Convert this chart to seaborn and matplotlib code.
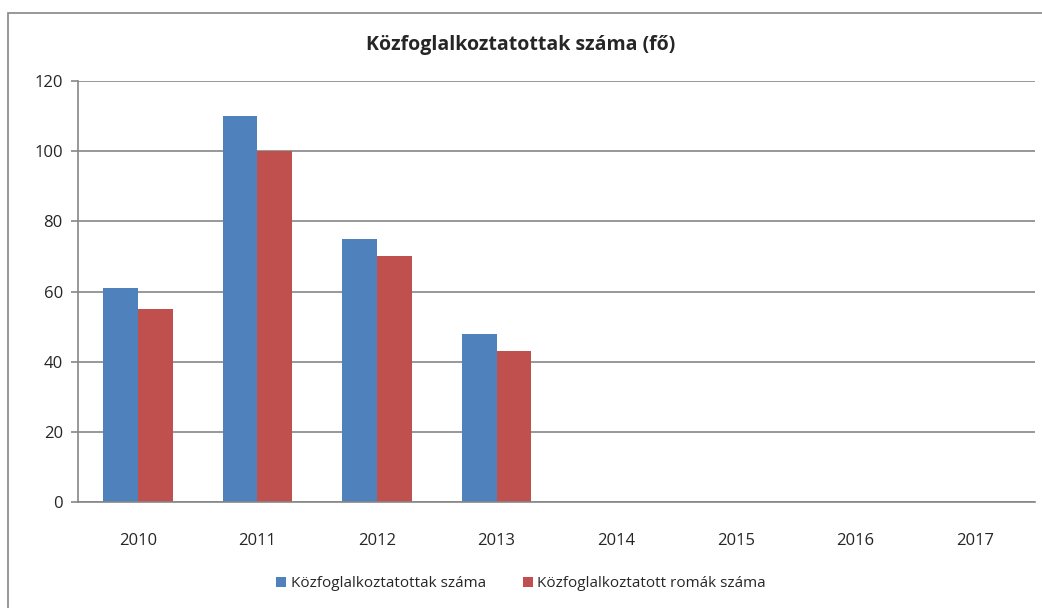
import numpy as np
import pandas as pd
import matplotlib
matplotlib.use("Agg")
import matplotlib.pyplot as plt
import seaborn as sns
from matplotlib.patches import Rectangle

# ------------------------------#
# Data
# ------------------------------#
years = ["2010", "2011", "2012", "2013", "2014", "2015", "2016", "2017"]
kozfog = [61, 110, 75, 48, 0, 0, 0, 0]
romak = [55, 100, 70, 43, 0, 0, 0, 0]
series_names = ["Közfoglalkoztatottak száma", "Közfoglalkoztatott romák száma"]
colors = ["#4F81BD", "#C0504D"]

df = pd.DataFrame({
    "year": years * 2,
    "value": kozfog + romak,
    "series": [series_names[0]] * len(years) + [series_names[1]] * len(years),
})

# ------------------------------#
# Plot
# ------------------------------#
sns.set_style("white")
plt.rcParams["font.family"] = ["Open Sans", "DejaVu Sans"]

fig = plt.figure(figsize=(10.42, 6.08), dpi=100)
ax = fig.add_axes([0.0749, 0.1743, 0.9181, 0.6925])

sns.barplot(
    data=df, x="year", y="value", hue="series",
    palette=colors, width=0.58, linewidth=0, saturation=1,
    ax=ax, legend=True,
)

grid_c = "#868686"
ax.set_ylim(0, 120)
ax.set_yticks(np.arange(0, 121, 20))
ax.set_xlim(-0.5, len(years) - 0.5)
ax.yaxis.grid(True, color=grid_c, linewidth=1.2)
ax.set_axisbelow(True)

for s in ["top", "right"]:
    ax.spines[s].set_visible(False)
for s in ["left", "bottom"]:
    ax.spines[s].set_color(grid_c)
    ax.spines[s].set_linewidth(1.2)

ax.set_xticks(np.arange(-0.5, len(years)), minor=True)
ax.tick_params(axis="x", which="major", length=0, pad=22, labelsize=12)
ax.tick_params(axis="x", which="minor", length=6, color=grid_c, width=1.2, direction="out")
ax.tick_params(axis="y", length=5, color=grid_c, width=1.2, direction="out", labelsize=12, pad=6, left=True)
ax.set_xlabel("")
ax.set_ylabel("")

fig.text(0.5, 0.926, "Közfoglalkoztatottak száma (fő)", ha="center", va="center",
         fontsize=14, fontweight="bold")

handles, labels = ax.get_legend_handles_labels()
ax.legend(handles, labels, loc="center", bbox_to_anchor=(0.5, 0.04),
          bbox_transform=fig.transFigure, ncol=2, frameon=False, fontsize=11,
          handlelength=0.65, handleheight=0.65, handletextpad=0.3, columnspacing=2.4)

# outer chart border
fig.patches.append(Rectangle((8 / 1042, -0.05), 1.1, 1 - 13 / 608 + 0.05,
                             transform=fig.transFigure, fill=False,
                             edgecolor="#868686", linewidth=1.2))

fig.savefig("out.png", dpi=100)
